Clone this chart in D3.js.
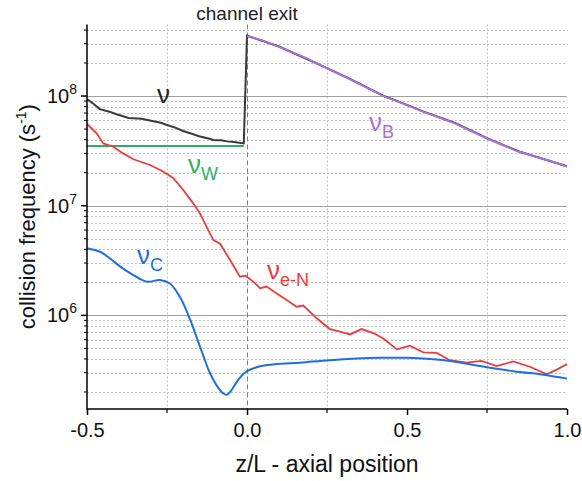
<!DOCTYPE html>
<html>
<head>
<meta charset="utf-8">
<script src="https://cdn.jsdelivr.net/npm/d3@7"></script>
<style>
  body { margin: 0; background: #fff; }
  svg { font-family: "Liberation Sans", Arial, sans-serif; }
</style>
</head>
<body>
<div id="chart"></div>
<script>
// Data
var nuX = [-0.5, -0.48, -0.46, -0.43, -0.41, -0.37, -0.33, -0.3, -0.27, -0.25, -0.22, -0.2, -0.17, -0.15, -0.12, -0.105, -0.08, -0.063, -0.04, -0.01,
           0.0, 0.1, 0.25, 0.32, 0.43, 0.48, 0.55, 0.65, 0.75, 0.85, 1.0];
var nuY = [9.4e7, 8.5e7, 7.6e7, 7.2e7, 6.85e7, 6.3e7, 6.2e7, 5.95e7, 5.7e7, 5.45e7, 5.1e7, 4.8e7, 4.5e7, 4.3e7, 4.1e7, 3.97e7, 3.95e7, 3.86e7, 3.8e7, 3.7e7,
           3.55e8, 2.83e8, 1.8e8, 1.44e8, 9.95e7, 8.75e7, 7.25e7, 5.68e7, 4.13e7, 3.12e7, 2.29e7];

var nuBX = [0.0, 0.05, 0.1, 0.18, 0.25, 0.32, 0.43, 0.48, 0.55, 0.65, 0.75, 0.85, 0.93, 1.0];
var nuBY = [3.52e8, 3.2e8, 2.81e8, 2.25e8, 1.79e8, 1.43e8, 9.86e7, 8.7e7, 7.2e7, 5.64e7, 4.1e7, 3.1e7, 2.65e7, 2.27e7];

var nuWX = [-0.5, -0.01];
var nuWY = [3.5e7, 3.5e7];

var nuENX = [-0.5, -0.47, -0.449, -0.418, -0.387, -0.355, -0.303, -0.262, -0.23, -0.199, -0.168, -0.147, -0.116, -0.105, -0.084, -0.053, -0.022,
             -0.005, 0.02, 0.041, 0.061, 0.093, 0.124, 0.155, 0.176, 0.218, 0.259, 0.291, 0.322, 0.358, 0.395, 0.426, 0.468, 0.509,
             0.551, 0.593, 0.634, 0.686, 0.733, 0.78, 0.832, 0.884, 0.937, 0.968, 1.0];
var nuENY = [5.56e7, 4.57e7, 3.7e7, 3.45e7, 3.0e7, 2.65e7, 2.35e7, 2.05e7, 1.78e7, 1.39e7, 1.05e7, 8.5e6, 5.6e6, 4.86e6, 4.5e6, 3.2e6, 2.25e6,
             2.3e6, 2.03e6, 1.77e6, 1.83e6, 1.58e6, 1.38e6, 1.2e6, 1.23e6, 9.4e5, 7.5e5, 7.1e5, 6.7e5, 7.5e5, 6.9e5, 6.15e5, 4.9e5, 5.3e5,
             4.6e5, 4.55e5, 3.9e5, 3.7e5, 3.85e5, 3.45e5, 3.8e5, 3.4e5, 2.9e5, 3.2e5, 3.6e5];

var nuCX = [-0.5, -0.459, -0.428, -0.397, -0.355, -0.313, -0.272, -0.241, -0.209, -0.178, -0.147, -0.116, -0.095, -0.075, -0.063, -0.05, -0.035, -0.02,
            0.0, 0.041, 0.093, 0.166, 0.259, 0.416, 0.5, 0.572, 0.645, 0.728, 0.832, 0.937, 1.0];
var nuCY = [4.1e6, 3.8e6, 3.3e6, 2.8e6, 2.33e6, 2.03e6, 2.1e6, 1.95e6, 1.46e6, 9.2e5, 5.2e5, 2.98e5, 2.3e5, 1.95e5, 1.89e5, 2.05e5, 2.4e5, 2.75e5,
            3.1e5, 3.43e5, 3.6e5, 3.7e5, 3.9e5, 4.1e5, 4.1e5, 4.0e5, 3.8e5, 3.45e5, 3.1e5, 2.85e5, 2.65e5];

var xTicks = [-0.5, 0.0, 0.5, 1.0];
var xMinorTicks = [-0.25, 0.25, 0.75];
var yDecades = [1e6, 1e7, 1e8];

var width = 582, height = 481;
var margin = {left: 87, right: 15, top: 24.4, bottom: 72};

var svg = d3.select("#chart").append("svg")
    .attr("width", width)
    .attr("height", height);

var x = d3.scaleLinear().domain([-0.5, 1.0]).range([margin.left, width - margin.right]);
var y = d3.scaleLog().domain([1.4e5, 4.5e8]).range([height - margin.bottom, margin.top]);

// minor y values: 2..9 of each decade inside the domain
var yMinor = [];
[1e5, 1e6, 1e7, 1e8].forEach(function(d) {
    for (var k = 2; k <= 9; k++) {
        var v = d * k;
        if (v >= y.domain()[0] && v <= y.domain()[1]) yMinor.push(v);
    }
});

// Grid lines
var grid = svg.append("g");
grid.selectAll(".yminor").data(yMinor).enter().append("line")
    .attr("x1", x(-0.5)).attr("x2", x(1.0))
    .attr("y1", function(d) { return Math.round(y(d)) + 0.5; })
    .attr("y2", function(d) { return Math.round(y(d)) + 0.5; })
    .attr("stroke", "#c4c4c4").attr("stroke-dasharray", "2,2");
grid.selectAll(".xminor").data(xMinorTicks).enter().append("line")
    .attr("x1", function(d) { return Math.round(x(d)) + 0.5; })
    .attr("x2", function(d) { return Math.round(x(d)) + 0.5; })
    .attr("y1", y.range()[1]).attr("y2", y.range()[0])
    .attr("stroke", "#c4c4c4").attr("stroke-dasharray", "2,2");
grid.selectAll(".ymajor").data(yDecades).enter().append("line")
    .attr("x1", x(-0.5)).attr("x2", x(1.0))
    .attr("y1", function(d) { return Math.round(y(d)) + 0.5; })
    .attr("y2", function(d) { return Math.round(y(d)) + 0.5; })
    .attr("stroke", "#a0a0a0").attr("stroke-width", 1.2);

// channel exit line
svg.append("line")
    .attr("x1", Math.round(x(0)) + 0.5).attr("x2", Math.round(x(0)) + 0.5)
    .attr("y1", y.range()[1]).attr("y2", y.range()[0])
    .attr("stroke", "#808080").attr("stroke-dasharray", "5,3");
svg.append("text")
    .attr("x", x(0)).attr("y", 20)
    .attr("text-anchor", "middle")
    .attr("font-size", 19)
    .attr("fill", "#222")
    .text("channel exit");

// Lines
function series(xs, ys) {
    return xs.map(function(d, i) { return [d, ys[i]]; });
}
var line = d3.line().x(function(d) { return x(d[0]); }).y(function(d) { return y(d[1]); });
var smooth = d3.line().curve(d3.curveCatmullRom.alpha(0.5)).x(function(d) { return x(d[0]); }).y(function(d) { return y(d[1]); });

svg.append("path").datum(series(nuWX, nuWY)).attr("d", line)
    .attr("fill", "none").attr("stroke", "#2fae68").attr("stroke-width", 2);
svg.append("path").datum(series(nuX, nuY)).attr("d", line)
    .attr("fill", "none").attr("stroke", "#3a3a3a").attr("stroke-width", 2);
svg.append("path").datum(series(nuBX, nuBY)).attr("d", line)
    .attr("fill", "none").attr("stroke", "#a970dc").attr("stroke-width", 2);
svg.append("path").datum(series(nuENX, nuENY)).attr("d", line)
    .attr("fill", "none").attr("stroke", "#ee3b3b").attr("stroke-width", 1.8);
svg.append("path").datum(series(nuCX, nuCY)).attr("d", smooth)
    .attr("fill", "none").attr("stroke", "#1f6fe0").attr("stroke-width", 2);

// Axes
var xAxis = d3.axisBottom(x).tickValues(xTicks).tickSize(6)
    .tickFormat(function(d) { return d3.format(".1f")(d).replace("\u2212", "-"); });
var gx = svg.append("g")
    .attr("transform", "translate(0," + y.range()[0] + ")")
    .call(xAxis);
gx.select(".domain").attr("stroke", "#000").attr("stroke-width", 1.5).attr("d", "M" + x(-0.5) + ",0H" + x(1.0));
gx.selectAll(".tick line").attr("stroke", "#000").attr("stroke-width", 1.5);
gx.selectAll(".tick text").attr("font-size", 20).attr("fill", "#111").attr("dy", "0.95em")
    .attr("font-family", "Liberation Sans, Arial, sans-serif");
gx.selectAll(".xm").data(xMinorTicks).enter().append("line")
    .attr("x1", function(d) { return x(d); }).attr("x2", function(d) { return x(d); })
    .attr("y1", 0).attr("y2", 4)
    .attr("stroke", "#000").attr("stroke-width", 1.2);

var gy = svg.append("g").attr("transform", "translate(" + x(-0.5) + ",0)");
gy.append("line")
    .attr("x1", 0).attr("x2", 0)
    .attr("y1", y.range()[1]).attr("y2", y.range()[0] + 0.75)
    .attr("stroke", "#000").attr("stroke-width", 1.5);
gy.selectAll(".ymt").data(yMinor).enter().append("line")
    .attr("x1", -3).attr("x2", 0)
    .attr("y1", function(d) { return y(d); }).attr("y2", function(d) { return y(d); })
    .attr("stroke", "#000").attr("stroke-width", 1);
gy.selectAll(".yMt").data(yDecades).enter().append("line")
    .attr("x1", -6).attr("x2", 0)
    .attr("y1", function(d) { return y(d); }).attr("y2", function(d) { return y(d); })
    .attr("stroke", "#000").attr("stroke-width", 1.5);
var ylab = gy.selectAll(".ylab").data(yDecades).enter().append("text")
    .attr("x", -10).attr("y", function(d) { return y(d) + 7; })
    .attr("text-anchor", "end")
    .attr("font-size", 20).attr("fill", "#111");
ylab.append("tspan").text("10");
ylab.append("tspan").attr("font-size", 14).attr("dy", -9)
    .text(function(d) { return Math.round(Math.log10(d)); });

// Axis titles
svg.append("text")
    .attr("x", x(0.25)).attr("y", 472)
    .attr("text-anchor", "middle")
    .attr("font-size", 23).attr("fill", "#111")
    .text("z/L - axial position");
var yt = svg.append("text")
    .attr("transform", "translate(35," + (y.range()[0] + y.range()[1]) / 2 + ") rotate(-90)")
    .attr("text-anchor", "middle")
    .attr("font-size", 22).attr("fill", "#111");
yt.append("tspan").text("collision frequency (s");
yt.append("tspan").attr("font-size", 14).attr("dy", -9).text("-1");
yt.append("tspan").attr("dy", 9).text(")");

// Curve labels
var labels = [
    {name: "", sub: "", x: -0.281, y: 8.6e7, color: "#222"},
    {name: "", sub: "W", x: -0.184, y: 1.99e7, color: "#2fae68"},
    {name: "", sub: "B", x: 0.381, y: 4.8e7, color: "#a970dc"},
    {name: "", sub: "C", x: -0.344, y: 2.94e6, color: "#1f6fe0"},
    {name: "", sub: "e-N", x: 0.0625, y: 2.15e6, color: "#ee3b3b"}
];
var lab = svg.selectAll(".clab").data(labels).enter().append("text")
    .attr("x", function(d) { return x(d.x); })
    .attr("y", function(d) { return y(d.y); })
    .attr("fill", function(d) { return d.color; });
lab.append("tspan").attr("font-size", 26).text("\u03bd");
lab.append("tspan").attr("font-size", 18).attr("dy", 7).text(function(d) { return d.sub; });
</script>
</body>
</html>
